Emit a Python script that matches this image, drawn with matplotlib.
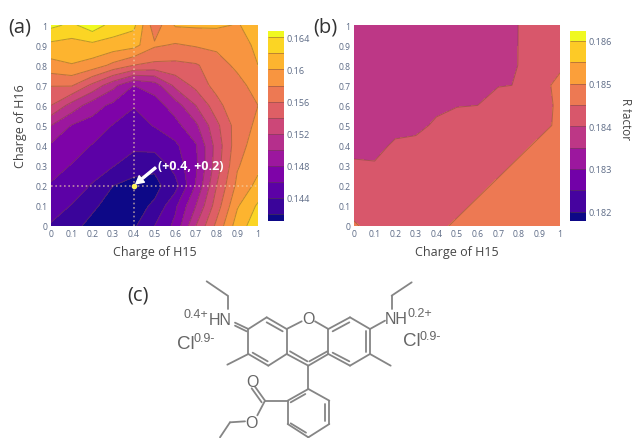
import numpy as np
import matplotlib
matplotlib.use('Agg')
import matplotlib.pyplot as plt

W, H = 632, 439

ticks = [0, 0.1, 0.2, 0.3, 0.4, 0.5, 0.6, 0.7, 0.8, 0.9, 1]
tick_labels = ['0', '0.1', '0.2', '0.3', '0.4', '0.5', '0.6', '0.7', '0.8', '0.9', '1']

# R factor on the charge grid, panel a, one list per H15 value
a_x00 = [.1438, .1449, .1458, .1468, .1477, .1500, .1540, .1561, .1593, .1615, .1645]
a_x01 = [.1425, .1439, .1451, .1459, .1468, .1479, .1512, .1562, .1599, .1612, .1636]
a_x02 = [.1415, .1423, .1438, .1451, .1459, .1472, .1489, .1535, .1592, .1615, .1652]
a_x03 = [.1412, .1413, .1420, .1441, .1452, .1459, .1475, .1506, .1575, .1612, .1632]
a_x04 = [.1417, .1413, .1414, .1428, .1445, .1453, .1461, .1480, .1560, .1607, .1625]
a_x05 = [.1440, .1423, .1414, .1424, .1448, .1461, .1470, .1490, .1555, .1583, .1568]
a_x06 = [.1465, .1456, .1432, .1448, .1456, .1473, .1490, .1525, .1555, .1578, .1602]
a_x07 = [.1520, .1500, .1482, .1476, .1478, .1496, .1520, .1546, .1558, .1582, .1603]
a_x08 = [.1565, .1550, .1540, .1530, .1528, .1535, .1552, .1568, .1570, .1585, .1603]
a_x09 = [.1610, .1598, .1585, .1578, .1572, .1570, .1578, .1572, .1585, .1592, .1599]
a_x10 = [.1632, .1623, .1606, .1595, .1590, .1584, .1580, .1590, .1600, .1604, .1606]
z_a = np.array([a_x00, a_x01, a_x02, a_x03, a_x04, a_x05, a_x06, a_x07, a_x08, a_x09, a_x10]).T

# panel b, one list per H16 value
b_y00 = [.18455, .18435, .18425, .18430, .18441, .18456, .18470, .18478, .18484, .18490, .18495]
b_y01 = [.18435, .18420, .18420, .18425, .18430, .18441, .18456, .18470, .18478, .18484, .18490]
b_y02 = [.18420, .18410, .18410, .18420, .18425, .18430, .18441, .18456, .18470, .18478, .18484]
b_y03 = [.18405, .18403, .18410, .18415, .18420, .18425, .18430, .18441, .18456, .18470, .18478]
b_y04 = [.18390, .18390, .18405, .18405, .18410, .18420, .18425, .18430, .18441, .18456, .18470]
b_y05 = [.18380, .18380, .18390, .18395, .18403, .18410, .18420, .18425, .18430, .18441, .18456]
b_y06 = [.18375, .18375, .18380, .18385, .18396, .18399, .18400, .18410, .18420, .18440, .18455]
b_y07 = [.18370, .18370, .18375, .18375, .18380, .18380, .18385, .18399, .184005, .18440, .18458]
b_y08 = [.18360, .18360, .18360, .18360, .18365, .18370, .18375, .18380, .18401, .18420, .18445]
b_y09 = [.18355, .18355, .18355, .18355, .18360, .18365, .18370, .18375, .18401, .18415, .18430]
b_y10 = [.18355, .18355, .18355, .18355, .18355, .18360, .18365, .18370, .18401, .18410, .18420]
z_b = np.array([b_y00, b_y01, b_y02, b_y03, b_y04, b_y05, b_y06, b_y07, b_y08, b_y09, b_y10])

levels_a = [.1411, .142, .144, .146, .148, .150, .152, .154, .156, .158, .160, .162, .164, .1653]
levels_b = [.18178, .182, .1825, .183, .1835, .184, .1845, .185, .1855, .186, .18623]
cbar_ticks_a = [.144, .148, .152, .156, .16, .164]
cbar_labels_a = ['0.144', '0.148', '0.152', '0.156', '0.16', '0.164']
cbar_ticks_b = [.182, .183, .184, .185, .186]
cbar_labels_b = ['0.182', '0.183', '0.184', '0.185', '0.186']
best_x, best_y = 0.4, 0.2

tick_col = '#5d6b86'
label_col = '#454545'
mol_col = '#858585'

fig = plt.figure(figsize=(W / 100, H / 100), dpi=100)
plt.rcParams['font.family'] = ['Open Sans', 'DejaVu Sans']


def px_axes(x0, y0, x1, y1):
    return fig.add_axes([x0 / W, 1 - y1 / H, (x1 - x0) / W, (y1 - y0) / H])


def panel(box, cbox, z, levels, cticks, clabels):
    ax = px_axes(*box)
    g = np.array(ticks)
    n = len(levels) - 1
    band_cols = [plt.cm.plasma(i / (n - 1)) for i in range(n)]
    cf = ax.contourf(g, g, z, levels=levels, colors=band_cols)
    cs = ax.contour(g, g, z, levels=levels[1:-1], colors='#6e4a35', linewidths=0.7, alpha=0.45)
    ax.set_xlim(0, 1)
    ax.set_ylim(0, 1)
    ax.set_xticks(ticks)
    ax.set_xticklabels(tick_labels)
    ax.set_yticks(ticks)
    ax.set_yticklabels(tick_labels)
    ax.tick_params(length=0, pad=2.5, labelsize=6.2, labelcolor=tick_col)
    for s in ax.spines.values():
        s.set_visible(False)
    ax.set_xlabel('Charge of H15', fontsize=9, color=label_col, labelpad=4.5)
    cax = px_axes(*cbox)
    cb = fig.colorbar(cf, cax=cax, spacing='proportional')
    cb.add_lines(cs)
    cb.set_ticks(cticks)
    cb.set_ticklabels(clabels)
    cb.ax.tick_params(length=0, pad=1.5, labelsize=6.6, labelcolor=tick_col)
    cb.outline.set_visible(False)
    return ax, cb


ax_a, cb_a = panel((51, 26, 258, 227), (268, 32, 284, 222), z_a, levels_a, cbar_ticks_a, cbar_labels_a)
cb_a.ax.set_ylim(.1411, .1648)
ax_a.set_ylabel('Charge of H16', fontsize=9, color=label_col, labelpad=6)
ax_a.plot([best_x, best_x], [0, 0.98], ls=(0, (1, 1.6)), color='#f3d3a8', lw=1.2, alpha=0.65)
ax_a.plot([0, 1], [best_y, best_y], ls=(0, (1, 1.6)), color='#f3d3a8', lw=1.2, alpha=0.65)
ax_a.plot([best_x], [best_y], 'o', color='#fff35c', ms=3)
ax_a.annotate('', xy=(best_x + 0.01, best_y + 0.01), xytext=(0.505, 0.29),
              arrowprops=dict(width=1.4, headwidth=6, headlength=5.5, color='white', shrink=0))
ax_a.text(0.515, 0.30, '(+0.4, +0.2)', color='white', fontsize=9, fontweight='bold', va='center')

ax_b, cb_b = panel((354, 26, 560, 227), (570, 32, 586, 222), z_b, levels_b, cbar_ticks_b, cbar_labels_b)

fig.text(626 / W, 1 - 119 / H, 'R factor', rotation=270, fontsize=8.4, color=label_col, ha='center', va='center')
fig.text(8 / W, 1 - 27 / H, '(a)', fontsize=14.5, color='#333333', va='center')
fig.text(313 / W, 1 - 27 / H, '(b)', fontsize=14.5, color='#333333', va='center')
fig.text(127 / W, 1 - 296 / H, '(c)', fontsize=14.5, color='#333333', va='center')

# panel c, structure drawn in pixels of the zoomed crop
mol = fig.add_axes([0, 0, 1, 1], zorder=-1)
mol.set_xlim(0, W)
mol.set_ylim(H, 0)
mol.axis('off')


def mx(v):
    return 120 + v / 3


def my(v):
    return 275 + v / 3


def bond(p, q, lw=1.3):
    mol.plot([mx(p[0]), mx(q[0])], [my(p[1]), my(q[1])], color=mol_col, lw=lw, solid_capstyle='round')


def chain(pts):
    for p, q in zip(pts[:-1], pts[1:]):
        bond(p, q)


def label(v, w, s, size=8.6):
    mol.text(mx(v), my(w), s, fontsize=size, color='#666666', ha='center', va='center',
             family=['Liberation Sans', 'DejaVu Sans'])


chain([(260, 22), (323, 65), (323, 105)])
chain([(815, 105), (815, 65), (875, 25)])
bond((345, 146), (385, 165))
bond((345, 155), (380, 172))
chain([(385, 165), (440, 130), (500, 165), (500, 240), (445, 275), (385, 240), (385, 165)])
chain([(500, 165), (545, 142)])
chain([(585, 142), (625, 165), (625, 240), (565, 275), (500, 240)])
chain([(625, 165), (690, 130), (750, 165), (750, 240), (690, 275), (625, 240)])
bond((440, 145), (488, 172))
bond((398, 236), (443, 262))
bond((510, 232), (562, 262))
bond((568, 262), (622, 232))
bond((638, 172), (688, 145))
bond((738, 172), (738, 233))
bond((638, 236), (688, 262))
chain([(385, 240), (322, 272)])
chain([(750, 240), (812, 275)])
chain([(750, 165), (795, 140)])
chain([(565, 275), (565, 345)])
chain([(565, 345), (628, 380), (628, 450), (565, 490), (503, 450), (503, 380), (565, 345)])
bond((615, 390), (615, 442))
bond((558, 476), (512, 448))
bond((512, 385), (556, 360))
bond((503, 380), (435, 380))
bond((435, 380), (405, 338))
bond((425, 385), (395, 343))
bond((435, 380), (412, 424))
chain([(375, 442), (330, 445), (300, 490)])

label(565, 133, 'O', 11.5)
label(397, 322, 'O', 11.5)
label(395, 445, 'O', 11.5)
label(302, 137, 'HN', 11.5)
label(228, 120, '0.4+', 9)
label(830, 135, 'NH', 11.5)
label(900, 118, '0.2+', 9)
label(196, 210, 'Cl', 13.5)
label(254, 193, '0.9-', 9)
label(876, 200, 'Cl', 13.5)
label(930, 187, '0.9-', 9)

fig.savefig('out.png', dpi=100)
